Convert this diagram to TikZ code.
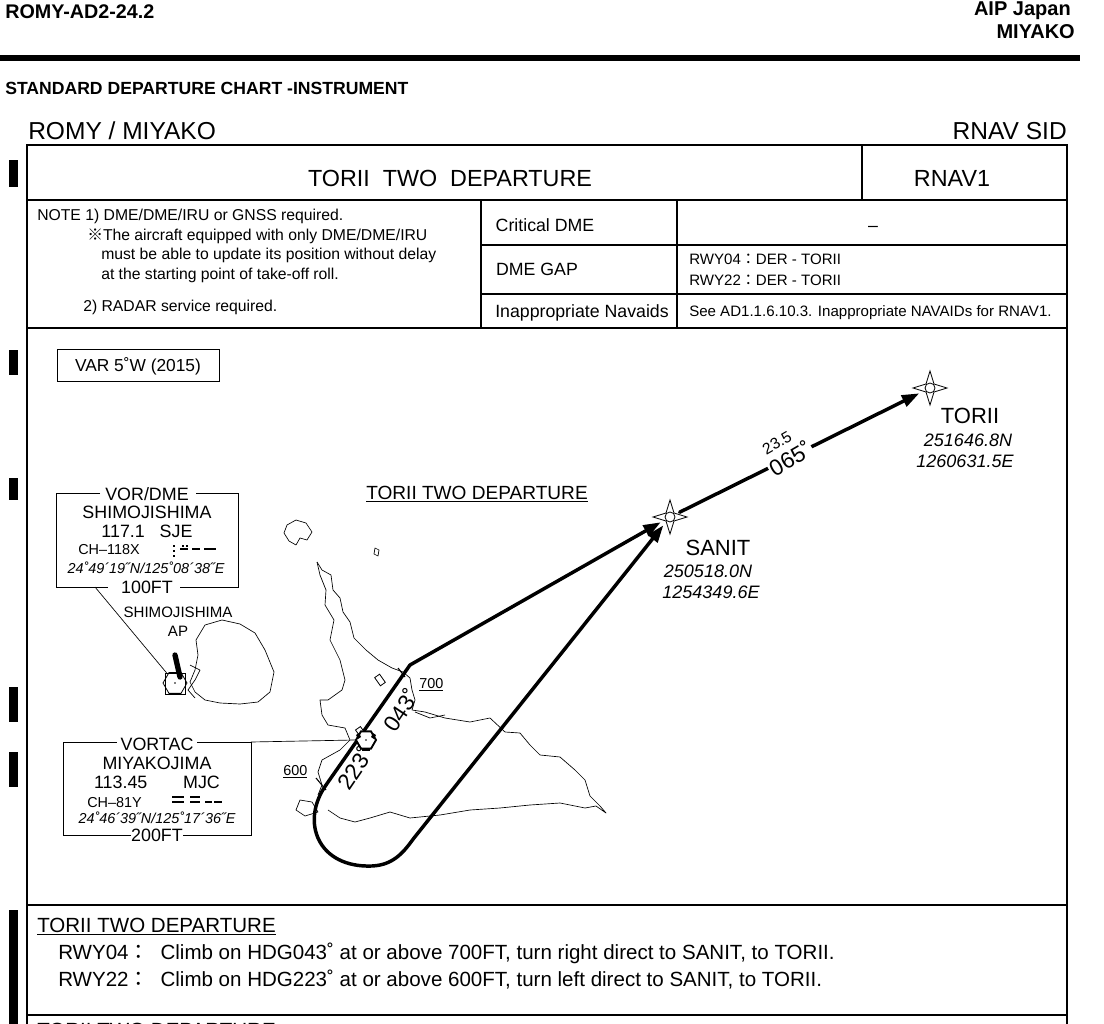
\documentclass[tikz,border=0pt]{standalone}
\usepackage{fontspec}
\setmainfont{Liberation Sans}
\newfontfamily\cjk{Noto Sans CJK JP}
\usetikzlibrary{arrows.meta,shapes.geometric,calc}
\newcommand{\dg}{˚}
\begin{document}
\begin{tikzpicture}[x=0.75pt,y=-0.75pt,
  t/.style={inner sep=0pt,anchor=base west},
  tc/.style={inner sep=0pt,anchor=base},
  fr/.style={line width=1pt},
  rt/.style={line width=2.6pt,line cap=round,line join=round},
  ar/.style={-{Triangle[length=13pt,width=9pt]}},
  coast/.style={line width=0.5pt,line join=round},
  wp/.style={draw,fill=white,line width=0.6pt}]
\useasboundingbox (0,0) rectangle (1104,1024);
% header
\node[t,font=\bfseries\fontsize{14.8}{16}\selectfont] (hd) at (5,19) {ROMY-AD2-24.2};
\node[inner sep=0pt,anchor=base east,font=\bfseries\fontsize{15}{16}\selectfont] (aip) at (1071,16) {AIP Japan};
\node[inner sep=0pt,anchor=base east,font=\bfseries\fontsize{15}{16}\selectfont] (mi) at (1075,39) {MIYAKO};
\draw[line width=4pt] (0,58) -- (1080,58);
\node[t,font=\bfseries\fontsize{13.2}{15}\selectfont] (sd) at (5,95) {STANDARD DEPARTURE CHART -INSTRUMENT};
\node[t,font=\fontsize{18.4}{20}\selectfont] (ap) at (28,139) {ROMY / MIYAKO};
\node[inner sep=0pt,anchor=base east,font=\fontsize{18.4}{20}\selectfont] (sid) at (1067,139) {RNAV SID};
% frame
\draw[fr] (27,1030) -- (27,145) -- (1067,145) -- (1067,1030);
\draw[fr] (27,200) -- (1067,200);
\draw[fr] (27,328) -- (1067,328);
\draw[fr] (27,905) -- (1067,905);
\draw[fr] (27,1015) -- (1067,1015);
\draw[fr] (862,145) -- (862,200);
\draw[fr] (481,200) -- (481,328);
\draw[fr] (677,200) -- (677,328);
\draw[fr] (481,245) -- (1067,245);
\draw[fr] (481,294) -- (1067,294);
% side bars
\foreach \a/\b in {160/187,350/375,478/500,687/722,752/787,910/1024}
  \fill (9,\a) rectangle (18,\b);
% title row
\node[tc,font=\fontsize{17.5}{19}\selectfont] (tt) at (450,186) {TORII\ \ TWO\ \ DEPARTURE};
\node[tc,font=\fontsize{17.5}{19}\selectfont] (rn) at (952,186) {RNAV1};
% notes
\begin{scope}[font=\fontsize{11.8}{13}\selectfont]
\node[t] (n1) at (37,220) {NOTE 1) DME/DME/IRU or GNSS required.};
\node[t] (n2) at (87,240) {{\cjk ※}The aircraft equipped with only DME/DME/IRU};
\node[t] (n3) at (101,259) {must be able to update its position without delay};
\node[t] (n4) at (101,279) {at the starting point of take-off roll.};
\node[t] (n5) at (83,311) {2) RADAR service required.};
\end{scope}
\begin{scope}[font=\fontsize{11.3}{13}\selectfont]
\node[t] (r1) at (689,264) {RWY04{\cjk ：}DER - TORII};
\node[t] (r2) at (689,285) {RWY22{\cjk ：}DER - TORII};
\node[t] (r3) at (689,316) {See AD1.1.6.10.3. Inappropriate NAVAIDs for RNAV1.};
\end{scope}
\begin{scope}[font=\fontsize{13.3}{15}\selectfont]
\node[tc] (c1) at (545,231) {Critical DME};
\node[tc] (c2) at (873,231) {–};
\node[tc] (c3) at (537,275) {DME GAP};
\node[tc] (c4) at (582,317) {Inappropriate Navaids};
\end{scope}
% VAR box
\draw[line width=0.6pt] (57,349) rectangle (219,381);
\node[tc,font=\fontsize{13}{15}\selectfont] (var) at (138,371) {VAR 5\dg W (2015)};
% coastlines
\draw[coast] (287,525) -- (296,520) -- (306,523) -- (312,532) -- (307,540) -- (300,538) -- (296,545) -- (289,541) -- (284,533) -- cycle;
\draw[coast] (375,548) -- (379,550) -- (378,556) -- (374,554) -- cycle;
\draw[coast] (317,562) -- (322,570) -- (331,575) -- (333,590) -- (340,598) -- (343,612) -- (350,622) -- (354,638) -- (366,650) -- (378,660) -- (392,668) -- (403,672) -- (410,678) -- (412,690) -- (415,700) -- (412,710)
  -- (425,712) -- (445,718) -- (470,722) -- (490,718) -- (505,732) -- (520,733) -- (530,745) -- (540,755) -- (560,757) -- (575,770) -- (585,780) -- (590,796) -- (600,806) -- (606,813) -- (596,806) -- (585,808) -- (560,803) -- (530,805) -- (500,808) -- (470,810) -- (440,815) -- (410,818) -- (390,812) -- (370,818) -- (355,822) -- (340,818) -- (328,810);
\draw[coast] (317,562) -- (320,575) -- (326,590) -- (325,605) -- (334,620) -- (330,640) -- (340,660) -- (345,680) -- (342,690) -- (328,700) -- (320,700) -- (322,715) -- (328,725) -- (345,728) -- (350,740) -- (340,750) -- (322,760) -- (318,772) -- (322,785) -- (318,795);
\draw[coast] (415,712) -- (430,718) -- (445,715);
\draw[coast] (300,800) -- (312,802) -- (318,812) -- (305,816) -- (296,810) -- cycle;
% shimojishima
\draw[coast] (205,625) -- (222,620) -- (240,624) -- (255,633) -- (265,650) -- (274,672) -- (270,692) -- (258,702) -- (240,704) -- (220,703) -- (205,700) -- (195,692) -- (190,682) -- (195,670) -- (198,655) -- (196,640) -- cycle;
\draw[coast] (190,665) -- (200,670) -- (195,680) -- (188,690) -- (195,698);
\draw[line width=4pt,line cap=round] (175,655) -- (180,677);
\draw[line width=0.5pt] (165,673) rectangle (185,694);
\node[draw,regular polygon,regular polygon sides=6,minimum size=18pt,inner sep=0pt,line width=0.6pt] (sje) at (175,683) {};
\fill (175,683) circle (0.9);
\node[tc,font=\fontsize{11.3}{13}\selectfont] (sap) at (178,617) {SHIMOJISHIMA};
\node[tc,font=\fontsize{11.3}{13}\selectfont] (sap2) at (178,636) {AP};
% VOR/DME box
\draw[line width=0.6pt] (100,493) -- (56,493) -- (56,587) -- (108,587);
\draw[line width=0.6pt] (196,493) -- (238,493) -- (238,587) -- (180,587);
\coordinate (l1) at (95,587);
\draw[line width=0.5pt] (l1) -- (sje);
\begin{scope}[font=\fontsize{13.4}{15}\selectfont]
\node[tc] (v1) at (147,500) {VOR/DME};
\node[tc] (v2) at (147,518) {SHIMOJISHIMA};
\node[tc] (v3) at (147,537) {117.1\ \ \ SJE};
\node[tc] (v6) at (147,593) {100FT};
\node[tc] (m1) at (157,750) {VORTAC};
\node[tc] (m2) at (157,769) {MIYAKOJIMA};
\node[tc] (m3) at (157,788) {113.45\qquad MJC};
\node[tc] (m6) at (157,841) {200FT};
\end{scope}
\node[t,font=\fontsize{10.8}{12}\selectfont] (v4) at (78,554) {CH--118X};
\node[tc,font=\itshape\fontsize{10.8}{12}\selectfont] (v5) at (146,573) {24˚49´19˝N/125˚08´38˝E};
\node[t,font=\fontsize{10.8}{12}\selectfont] (m4) at (87,807) {CH--81Y};
\node[tc,font=\itshape\fontsize{10.8}{12}\selectfont] (m5) at (157,823) {24˚46´39˝N/125˚17´36˝E};
% morse
\begin{scope}[line width=1.6pt]
\fill (173,545) rectangle +(2,2); \fill (173,550) rectangle +(2,2);\fill (173,555) rectangle +(2,2);
\draw (180,549) -- (188,549); \draw (192,549) -- (200,549); \draw (204,549) -- (216,549);
\fill (182,545) rectangle +(2,2);\fill (186,545) rectangle +(2,2);
\draw (172,797) -- (184,797); \draw (172,802) -- (184,802);\draw (190,797) -- (200,797);\draw (190,802) -- (200,802);\draw (205,802)--(212,802);\draw(214,802)--(222,802);
\end{scope}
\draw[line width=0.6pt] (63,742) -- (117,742); \draw[line width=0.6pt] (197,742) -- (251,742) -- (251,835) -- (183,835);
\draw[line width=0.6pt] (131,835) -- (63,835) -- (63,742);
% waypoints
\coordinate (SANIT) at (670,517);
\coordinate (TORII) at (930,388);
\foreach \p in {SANIT,TORII}{
 \draw[wp] ($(\p)+(0,-17)$) -- ($(\p)+(4,-4)$) -- ($(\p)+(17,0)$) -- ($(\p)+(4,4)$) -- ($(\p)+(0,17)$) -- ($(\p)+(-4,4)$) -- ($(\p)+(-17,0)$) -- ($(\p)+(-4,-4)$) -- cycle;
 \draw[wp] (\p) circle (5);}
% route
\coordinate (bend) at (410,665);
\coordinate (rs) at (326,785);
\draw[rt,ar] (rs) -- (bend) -- ($(SANIT)!8pt!(bend)$);
\draw[rt,ar] (rs) .. controls (300,822) and (318,868) .. (372,866) .. controls (395,865) and (405,850) .. (414,838) -- ($(SANIT)!8pt!(414,838)$);
\draw[rt,ar] ($(SANIT)!8pt!(TORII)$) -- ($(TORII)!9pt!(SANIT)$);
% runway marks
\draw[line width=0.6pt,fill=white,rotate around={-55:(362,734)}] (355,731) rectangle (369,737);
\draw[line width=0.6pt,fill=white,rotate around={-55:(380,680)}] (375,677) rectangle (385,683);
\draw[line width=0.8pt] (398,668) -- (405,677);
\draw[line width=0.8pt] (316,778) -- (326,790);
% VORTAC
\node[draw,regular polygon,regular polygon sides=6,minimum size=15pt,inner sep=0pt,line width=1.4pt,fill=white] (mjc) at (366,740) {};
\fill (366,740) circle (0.9);
\fill (362,748) rectangle (370,751);
\fill (373,733) -- (376,735) -- (374,739) -- (371,737) -- cycle;
\fill (356,735) -- (359,733) -- (361,737) -- (358,739) -- cycle;
\coordinate (l2) at (251,742);
\draw[line width=0.5pt] (l2) -- (mjc.west);
% route labels
\node[font=\fontsize{17}{18}\selectfont,rotate=56,inner sep=0pt] (h1) at (401,710) {043\dg};
\node[font=\fontsize{17}{18}\selectfont,rotate=56,inner sep=0pt] (h2) at (355,768) {223\dg};
\node[t,font=\fontsize{10.8}{12}\selectfont] (a7) at (419,688) {\underline{700}};
\node[t,font=\fontsize{10.8}{12}\selectfont] (a6) at (283,775) {\underline{600}};
\node[font=\fontsize{11.8}{12}\selectfont,rotate=30,inner sep=0pt] (d1) at (777,443) {23.5};
\node[font=\fontsize{17}{18}\selectfont,rotate=30,inner sep=1pt,fill=white] (d2) at (790,458) {065\dg};
\node[tc,font=\fontsize{14.3}{16}\selectfont] (ttl) at (477,499) {\underline{TORII TWO DEPARTURE}};
% waypoint texts
\node[tc,font=\fontsize{16.5}{18}\selectfont] (tn) at (970,423) {TORII};
\node[tc,font=\itshape\fontsize{13.5}{15}\selectfont] (tc1) at (968,446) {251646.8N};
\node[tc,font=\itshape\fontsize{13.5}{15}\selectfont] (tc2) at (965,467) {1260631.5E};
\node[tc,font=\fontsize{16.5}{18}\selectfont] (sn) at (718,555) {SANIT};
\node[tc,font=\itshape\fontsize{13.5}{15}\selectfont] (sc1) at (708,577) {250518.0N};
\node[tc,font=\itshape\fontsize{13.5}{15}\selectfont] (sc2) at (711,598) {1254349.6E};
% bottom text
\node[t,font=\fontsize{15.4}{17}\selectfont] (bt) at (37,932) {\underline{TORII TWO DEPARTURE}};
\node[t,font=\fontsize{15.4}{17}\selectfont] (b1) at (58,959) {RWY04{\cjk ：}\ \ Climb on HDG043\dg\ at or above 700FT, turn right direct to SANIT, to TORII.};
\node[t,font=\fontsize{15.4}{17}\selectfont] (b2) at (58,986) {RWY22{\cjk ：}\ \ Climb on HDG223\dg\ at or above 600FT, turn left direct to SANIT, to TORII.};
\begin{scope}
\clip (0,1015) rectangle (1104,1024);
\node[t,font=\fontsize{15.4}{17}\selectfont] (bt2) at (37,1037) {TORII TWO DEPARTURE};
\end{scope}
\end{tikzpicture}
\end{document}
